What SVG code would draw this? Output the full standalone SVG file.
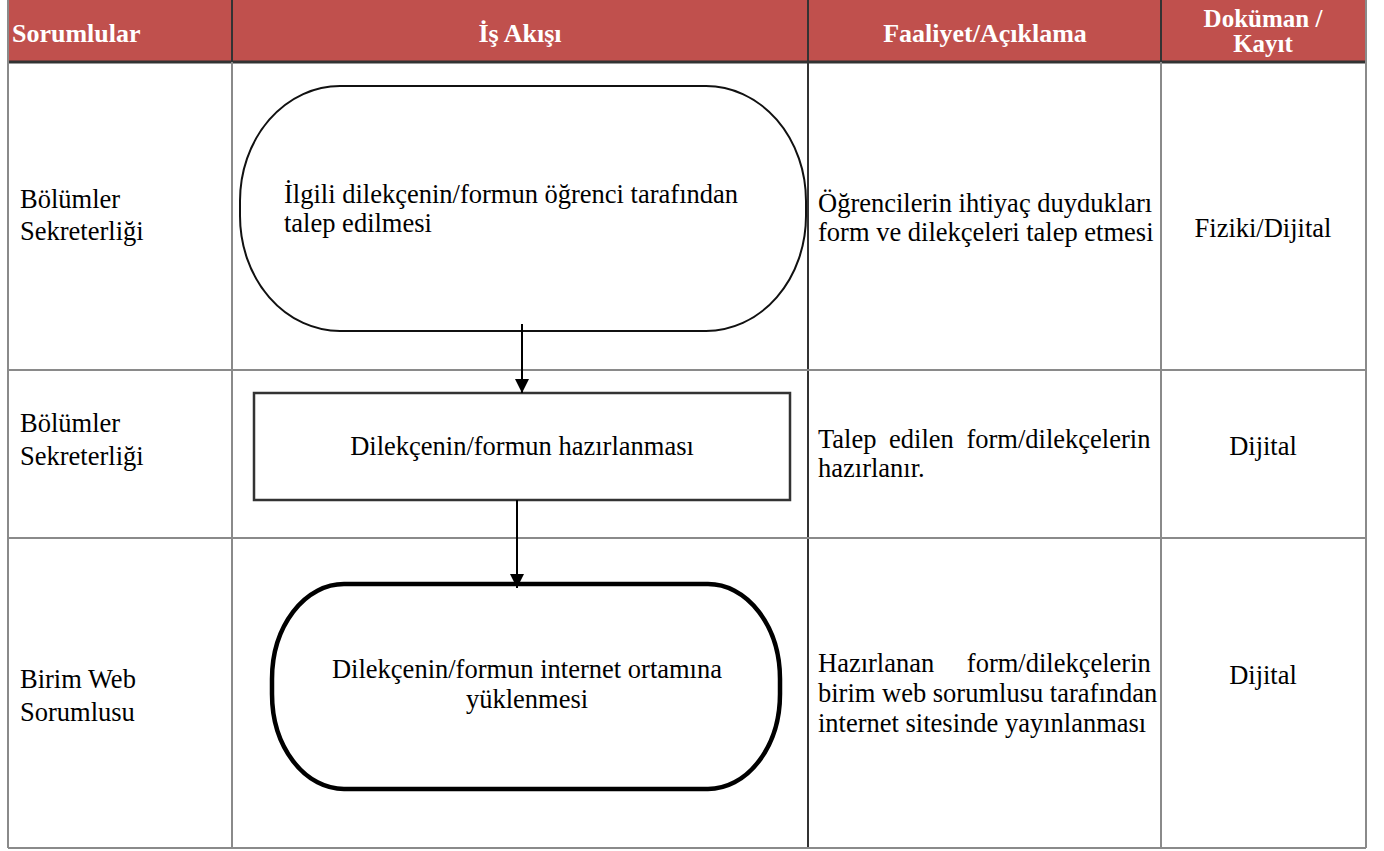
<svg xmlns="http://www.w3.org/2000/svg" width="1384" height="851" viewBox="0 0 1384 851">
<defs>
<marker id="ah" viewBox="0 0 14 14" refX="14" refY="7" markerWidth="14" markerHeight="14" markerUnits="userSpaceOnUse" orient="auto">
<path d="M0,0 L14,7 L0,14 Z" fill="#000"/>
</marker>
<style>
text{font-family:'Liberation Serif','DejaVu Serif','Noto Serif',serif}
.hd{font-weight:bold;font-size:26px;fill:#fff}
.hs{font-size:25px}
.t{font-size:26.5px;fill:#000}
.grid{stroke:#8a8a8a;stroke-width:2;fill:none}
.dk{stroke:#333;stroke-width:2;fill:none}
.c{text-anchor:middle}
.e{text-anchor:end}
</style>
</defs>
<rect x="0" y="0" width="1384" height="851" fill="#fff"/>
<g id="table">
<rect x="8" y="0" width="1358" height="62" fill="#C0504D"/>
<line class="dk" x1="8" y1="62" x2="1366" y2="62" style="stroke-width:3"/>
<line class="grid" x1="8" y1="0" x2="8" y2="848"/>
<line class="grid" x1="1366" y1="0" x2="1366" y2="848"/>
<line class="dk" x1="232" y1="0" x2="232" y2="62"/>
<line class="grid" x1="232" y1="62" x2="232" y2="848"/>
<line class="dk" x1="808" y1="0" x2="808" y2="848"/>
<line class="dk" x1="1161" y1="0" x2="1161" y2="62"/>
<line class="grid" x1="1161" y1="62" x2="1161" y2="848"/>
<line class="grid" x1="8" y1="370" x2="1366" y2="370"/>
<line class="grid" x1="8" y1="538" x2="1366" y2="538"/>
<line class="grid" x1="8" y1="848" x2="1366" y2="848"/>
<text class="hd" x="12" y="42">Sorumlular</text>
<text class="hd c" x="520" y="42">İş Akışı</text>
<text class="hd c" x="985" y="42">Faaliyet/Açıklama</text>
<text class="hd hs c" x="1263" y="27">Doküman /</text>
<text class="hd hs c" x="1263" y="52">Kayıt</text>
</g>
<g id="row1">
<text class="t" x="20" y="208">Bölümler</text>
<text class="t" x="20" y="240">Sekreterliği</text>
<text class="t" x="818" y="212">Öğrencilerin ihtiyaç duydukları</text>
<text class="t" x="818" y="241">form ve dilekçeleri talep etmesi</text>
<text class="t c" x="1263" y="237">Fiziki/Dijital</text>
</g>
<g id="row2">
<text class="t" x="20" y="432">Bölümler</text>
<text class="t" x="20" y="465">Sekreterliği</text>
<text class="t" x="818" y="448" word-spacing="6">Talep edilen form/dilekçelerin</text>
<text class="t" x="818" y="477">hazırlanır.</text>
<text class="t c" x="1263" y="455">Dijital</text>
</g>
<g id="row3">
<text class="t" x="20" y="688">Birim Web</text>
<text class="t" x="20" y="721">Sorumlusu</text>
<text class="t" x="818" y="672" word-spacing="26">Hazırlanan form/dilekçelerin</text>
<text class="t" x="818" y="702">birim web sorumlusu tarafından</text>
<text class="t" x="818" y="732">internet sitesinde yayınlanması</text>
<text class="t c" x="1263" y="684">Dijital</text>
</g>
<g id="n1">
<rect x="240" y="86" width="566" height="245" rx="100" ry="115" fill="#fff" stroke="#111" stroke-width="2"/>
<text class="t" x="284" y="203">İlgili dilekçenin/formun öğrenci tarafından</text>
<text class="t" x="284" y="232">talep edilmesi</text>
</g>
<g id="n2">
<rect x="254" y="393" width="536" height="107" fill="#fff" stroke="#333" stroke-width="2.5"/>
<text class="t c" x="522" y="455">Dilekçenin/formun hazırlanması</text>
</g>
<g id="n3">
<rect x="272" y="584" width="508" height="205" rx="72" ry="95" fill="#fff" stroke="#000" stroke-width="4.5"/>
<text class="t c" x="527" y="678">Dilekçenin/formun internet ortamına</text>
<text class="t c" x="527" y="708">yüklenmesi</text>
</g>
<g id="connectors" stroke="#000" stroke-width="2" fill="none">
<line x1="522" y1="324" x2="522" y2="393" marker-end="url(#ah)"/>
<line x1="517" y1="500" x2="517" y2="588" marker-end="url(#ah)"/>
</g>
</svg>
